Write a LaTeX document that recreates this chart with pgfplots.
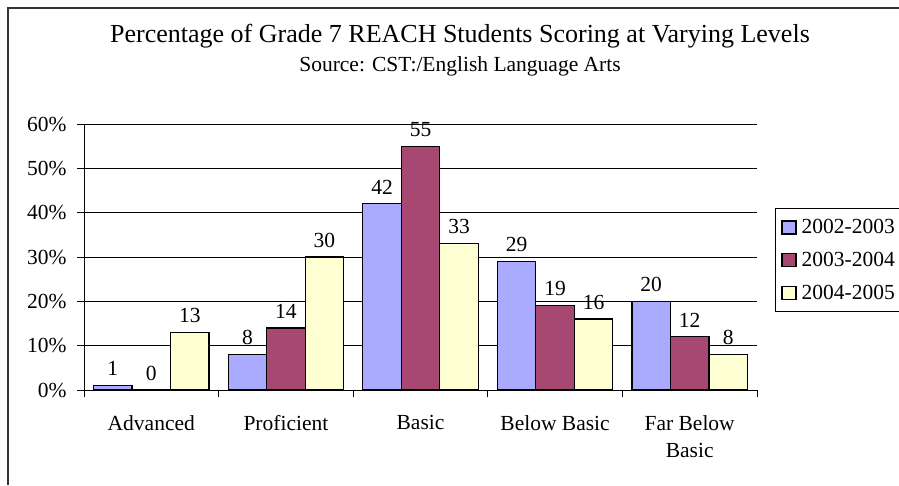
\documentclass[border=0pt]{standalone}
\usepackage{pgfplots}
\pgfplotsset{compat=1.18}
\usepackage{fontspec}
\setmainfont{Liberation Serif}
\definecolor{cA}{HTML}{AAAAFF}
\definecolor{cB}{HTML}{A64872}
\definecolor{cC}{HTML}{FFFFD4}
\begin{document}
\begin{tikzpicture}[x=1pt,y=1pt]
\useasboundingbox (0,0) rectangle (899,485);
\draw[line width=2pt, black!80] (8,0) -- (8,477) -- (899,477);
\node[anchor=base, inner sep=0pt, font=\fontsize{26}{30}\selectfont] at (460,442) {Percentage of Grade 7 REACH Students Scoring at Varying Levels};
\node[anchor=base, inner sep=0pt, font=\fontsize{21.5}{25}\selectfont] at (460,413) {Source: CST:/English Language Arts};
\begin{axis}[
  at={(84pt,95pt)}, anchor=south west,
  scale only axis, width=673pt, height=266pt,
  ybar=0pt, bar width=38.5pt,
  xmin=-0.5, xmax=4.5, ymin=0, ymax=60,
  axis lines*=left,
  axis line style={black, line width=0.9pt},
  ymajorgrids, grid style={black, line width=0.9pt},
  xtick={0,1,2,3,4},
  xticklabels={Advanced,Proficient,Basic,Below Basic,{Far Below\\Basic}},
  xticklabel style={align=center, text depth=0pt, yshift=-15pt},
  yticklabel style={xshift=-7pt},
  major x tick style={draw=none},
  minor xtick={-0.5,0.5,1.5,2.5,3.5,4.5},
  tick align=outside,
  major tick length=7pt, minor tick length=7pt,
  tick style={black, line width=0.9pt},
  ytick={0,10,20,30,40,50,60},
  yticklabels={0\%,10\%,20\%,30\%,40\%,50\%,60\%},
  every tick label/.append style={font=\fontsize{21.5}{27}\selectfont},
  /pgf/number format/assume math mode=true,
  nodes near coords,
  every node near coord/.append style={font=\fontsize{21.5}{25}\selectfont, anchor=south, inner sep=0pt, yshift=9pt},
  legend cell align=left,
  legend style={at={(axis description cs:1.0267,0.684)}, anchor=north west, draw=black, line width=0.9pt,
    font=\fontsize{21.5}{25}\selectfont, row sep=13pt, inner xsep=6pt, inner ysep=9pt,
    /tikz/every odd column/.append style={column sep=3pt}},
]
\addplot[fill=cA, draw=black, line width=1.2pt,
  legend image code/.code={\draw[fill=cA,draw=black,line width=1.2pt] (0pt,-6.5pt) rectangle (14pt,6.5pt);}]
  coordinates {(0,1) (1,8) (2,42) (3,29) (4,20)};
\addplot[fill=cB, draw=black, line width=1.2pt,
  legend image code/.code={\draw[fill=cB,draw=black,line width=1.2pt] (0pt,-6.5pt) rectangle (14pt,6.5pt);}]
  coordinates {(0,0) (1,14) (2,55) (3,19) (4,12)};
\addplot[fill=cC, draw=black, line width=1.2pt,
  legend image code/.code={\draw[fill=cC,draw=black,line width=1.2pt] (0pt,-6.5pt) rectangle (14pt,6.5pt);}]
  coordinates {(0,13) (1,30) (2,33) (3,16) (4,8)};
\legend{2002-2003,2003-2004,2004-2005}
\end{axis}
\end{tikzpicture}
\end{document}
